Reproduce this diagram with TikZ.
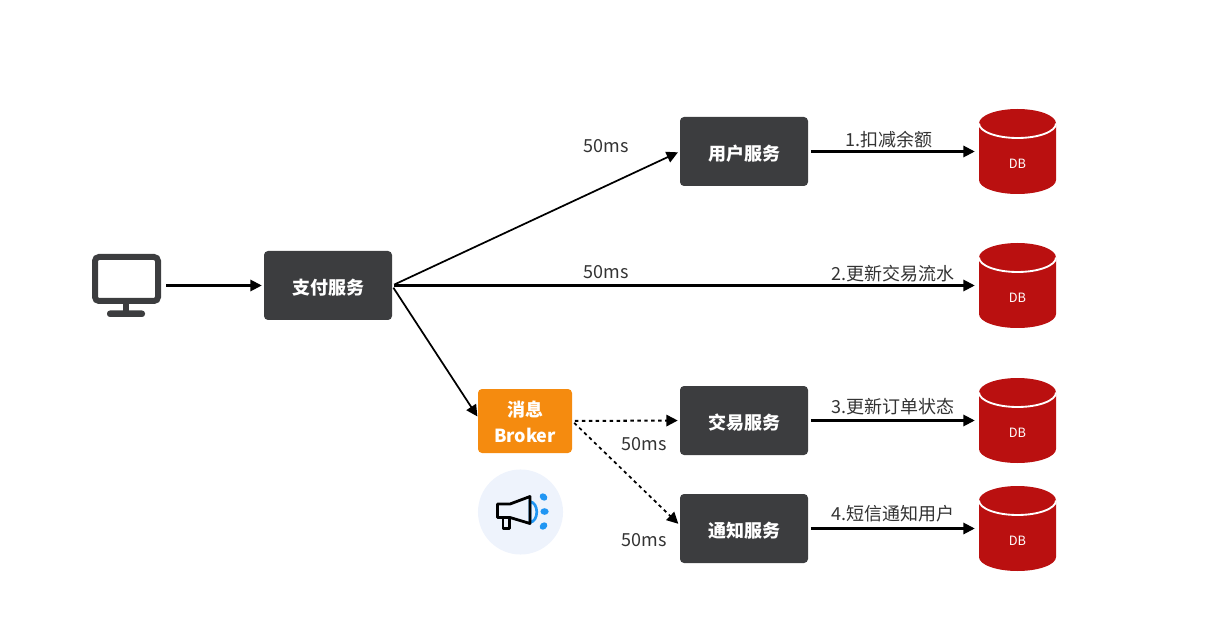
\documentclass[tikz,border=0pt]{standalone}
\usepackage{fontspec}
\setmainfont{Noto Sans CJK SC}
\usetikzlibrary{arrows.meta}
\definecolor{boxdark}{HTML}{3C3D3F}
\definecolor{dbred}{HTML}{BA1010}
\definecolor{brokerorange}{HTML}{F58B0F}
\definecolor{halo}{HTML}{EEF3FC}
\definecolor{iconblue}{HTML}{2196F3}
\definecolor{labeltext}{HTML}{333333}
\newcommand{\lowered}[2][1.4pt]{\raisebox{-#1}[\height][\depth]{#2}}
\tikzset{
  svc/.style={fill=boxdark,text=white,rounded corners=3pt,minimum width=96pt,minimum height=51.75pt,inner sep=0pt,font=\fontsize{13.5pt}{16pt}\selectfont\bfseries},
  brk/.style={fill=brokerorange,text=white,rounded corners=3pt,minimum width=70.5pt,minimum height=48pt,inner sep=0pt,align=center,font=\fontsize{13.5pt}{19.5pt}\selectfont\bfseries},
  lbl/.style={text=labeltext,inner sep=0pt,font=\fontsize{13.5pt}{16pt}\selectfont},
  dblabel/.style={text=white,inner sep=0pt,font=\fontsize{9.6pt}{11pt}\selectfont},
  dbanchor/.style={minimum width=57.75pt,minimum height=63.75pt,inner sep=0pt},
  flow/.style={line width=1.3pt,-{Triangle[length=8.5pt,width=8.5pt]},black},
  hflow/.style={flow,line width=1.52pt},
  dflow/.style={flow,dash pattern=on 2.6pt off 2.6pt}
}
\newcommand{\dbcyl}[2]{%
  \begin{scope}[shift={(1017.5,#2)}]
    \fill[dbred] (-38.5,-28) arc[start angle=180,end angle=0,x radius=28.875pt,y radius=10.875pt]
      -- (38.5,28.5) arc[start angle=0,end angle=-180,x radius=28.875pt,y radius=10.5pt] -- cycle;
    \draw[white,line width=1.4pt] (-38.5,-28) arc[start angle=180,end angle=360,x radius=28.875pt,y radius=10.875pt];
    \node[dbanchor] (#1) at (0,0) {};
    \node[dblabel] (#1t) at (0,12.5) {DB};
  \end{scope}}
\begin{document}
\begin{tikzpicture}[x=0.75pt,y=-0.75pt]
\useasboundingbox (0,0) rectangle (1216,641);
% monitor
\draw[boxdark,line width=4.5pt,rounded corners=3pt] (95,257) rectangle (158,301);
\fill[boxdark] (123,303) rectangle (129,311);
\fill[boxdark,rounded corners=2.2pt] (107,310.5) rectangle (145,317);
\coordinate (monout) at (166,285.5);
% service boxes
\node[svc] (pay) at (328,285.5) {\lowered{支付服务}};
\node[svc] (user) at (744,151.5) {\lowered{用户服务}};
\node[svc] (trade) at (744,420.5) {\lowered{交易服务}};
\node[svc] (notify) at (744,528.5) {\lowered{通知服务}};
\node[brk] (broker) at (525,421) {\lowered[0.75pt]{消息}\\\lowered[0.75pt]{Broker}};
% databases
\dbcyl{dba}{151.5}
\dbcyl{dbb}{285.5}
\dbcyl{dbc}{420.5}
\dbcyl{dbd}{528.5}
% megaphone
\fill[halo] (520.5,512) circle[radius=31.9pt];
\draw[iconblue,line width=2pt] (530,501.5) .. controls (539,503) and (539,521) .. (530,522.5) -- cycle;
\draw[black,line width=2.1pt,line join=round] (530,496.5) -- (530,523.5) -- (510,517.5) -- (497.5,517.5) -- (497.5,504) -- (510,504) -- cycle;
\draw[black,line width=2.1pt,line join=round] (503,517.5) -- (503,528.5) -- (509.5,528.5) -- (509.5,517.5);
\fill[iconblue,rotate around={-40:(543.5,497)}] (543.5,497) ellipse[x radius=3.1pt,y radius=2.5pt];
\fill[iconblue] (544.5,511.5) ellipse[x radius=3.1pt,y radius=2.5pt];
\fill[iconblue,rotate around={40:(543.5,526)}] (543.5,526) ellipse[x radius=3.1pt,y radius=2.5pt];
% connectors
\draw[hflow,shorten >=1.5pt] (monout) -- (pay.west);
\draw[flow,shorten <=1.5pt,shorten >=1.5pt] (pay.east) -- (user.west);
\draw[hflow,shorten <=1.5pt,shorten >=3pt] (pay.east) -- (dbb.west);
\draw[flow,shorten <=1.5pt,shorten >=0.5pt] ([yshift=-0.4pt]pay.east) -- ([yshift=3pt]broker.west);
\draw[dflow,line width=1.52pt,shorten <=2pt,shorten >=1.5pt] (broker.east) -- (trade.west);
\draw[dflow,shorten <=2pt,shorten >=1.5pt] (broker.east) -- ([yshift=2.5pt]notify.west);
\draw[hflow,shorten <=2pt,shorten >=3pt] (user.east) -- (dba.west);
\draw[hflow,shorten <=2pt,shorten >=3pt] (trade.east) -- (dbc.west);
\draw[hflow,shorten <=2pt,shorten >=3pt] (notify.east) -- (dbd.west);
% labels
\node[lbl] (t1) at (606.5,146.5) {50ms};
\node[lbl] (t2) at (606.5,272) {50ms};
\node[lbl] (t3) at (644.5,444.5) {50ms};
\node[lbl] (t4) at (644.5,540) {50ms};
\node[lbl] (s1) at (888.5,140) {1.扣减余额};
\node[lbl] (s2) at (892.5,273.5) {2.更新交易流水};
\node[lbl] (s3) at (892.5,406.5) {3.更新订单状态};
\node[lbl] (s4) at (892.5,513.5) {4.短信通知用户};
\end{tikzpicture}
\end{document}
